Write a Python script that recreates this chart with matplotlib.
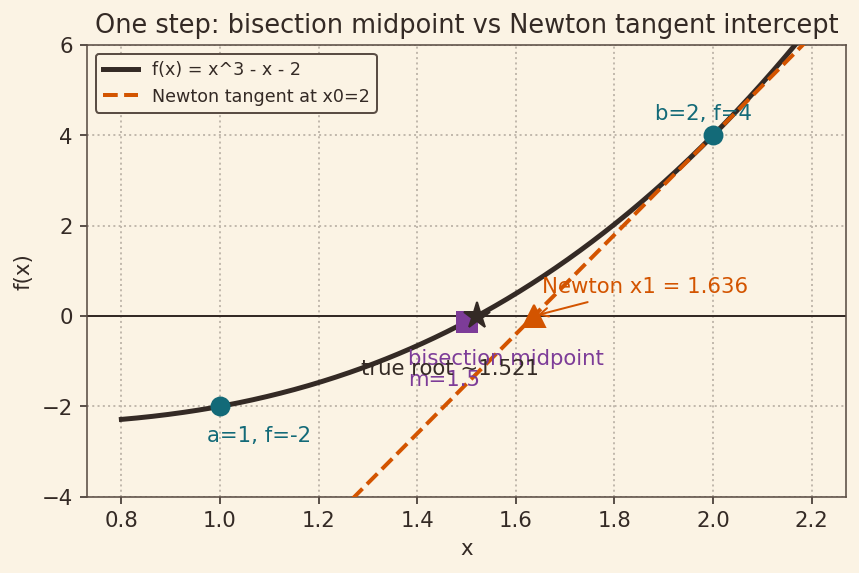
import numpy as np
import matplotlib
matplotlib.use("Agg")
import matplotlib.pyplot as plt

# bracket and Newton start
a, b = 1.0, 2.0
x0 = 2.0
x_range = [0.8, 2.2]
y_limits = [-4, 6]

bg = "#fbf3e4"
ink = "#342a25"
orange = "#d35400"
teal = "#136a78"
purple = "#7d3c98"


def f(x):
    return x**3 - x - 2


def df(x):
    return 3 * x**2 - 1


m = 0.5 * (a + b)
x1 = x0 - f(x0) / df(x0)
root = 1.5213797

fs = 10.7
plt.rcParams.update({
    "font.family": "DejaVu Sans",
    "font.size": fs,
    "text.color": ink,
    "axes.labelcolor": ink,
    "xtick.color": ink,
    "ytick.color": ink,
    "axes.edgecolor": "#5a4d44",
})

fig, ax = plt.subplots(figsize=(6, 4), dpi=143.33)
fig.patch.set_facecolor(bg)
ax.set_facecolor(bg)

xs = np.linspace(x_range[0], x_range[1], 400)
ax.plot(xs, f(xs), color=ink, lw=2.5, label="f(x) = x^3 - x - 2", zorder=3)
ax.plot(xs, f(x0) + df(x0) * (xs - x0), color=orange, lw=2, ls="--",
        label="Newton tangent at x0=2", zorder=4)
ax.axhline(0, color=ink, lw=1, zorder=2)

ax.plot([a, b], [f(a), f(b)], "o", color=teal, ms=9, zorder=5)
ax.text(b - 0.02, f(b) + 0.25, "b=2, f=4", color=teal, ha="center", va="bottom", fontsize=fs)
ax.text(a + 0.08, f(a) - 0.42, "a=1, f=-2", color=teal, ha="center", va="top", fontsize=fs)

ax.plot([m], [f(m)], "s", color=purple, ms=10, zorder=5)
ax.text(1.382, -0.72, "bisection midpoint\nm=1.5", color=purple, ha="left", va="top",
        fontsize=fs, linespacing=1.1, zorder=6)

ax.plot([root], [0], "*", color=ink, ms=14, zorder=6)
ax.text(1.467, -1.17, "true root ~1.521", color=ink, ha="center", va="center", fontsize=fs, zorder=6)

ax.plot([x1], [0], "^", color=orange, ms=11, zorder=6)
ax.annotate(f"Newton x1 = {x1:.3f}", xy=(x1, 0), xytext=(1.654, 0.64),
            color=orange, ha="left", va="center", fontsize=fs,
            arrowprops=dict(arrowstyle="->", color=orange, lw=1))

ax.set_ylim(*y_limits)
ax.set_xlabel("x")
ax.set_ylabel("f(x)")
ax.set_title("One step: bisection midpoint vs Newton tangent intercept", fontsize=12.9)
ax.grid(True, ls=":", color="#c2b9ad", lw=1)
leg = ax.legend(loc="upper left", fontsize=8.8, facecolor=bg, edgecolor="#5a4d44", framealpha=1)
leg.get_frame().set_linewidth(1)

fig.subplots_adjust(left=0.101, right=0.984, bottom=0.133, top=0.921)
fig.savefig("out.png", dpi=143.33, facecolor=bg)
